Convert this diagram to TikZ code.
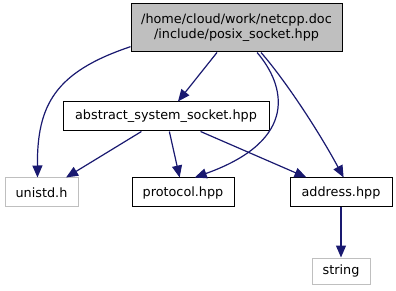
\documentclass[tikz,border=0pt]{standalone}
\usepackage{fontspec}
\setmainfont{DejaVu Sans}
\usetikzlibrary{arrows.meta,positioning}
\definecolor{edgeblue}{RGB}{25,25,112}
\definecolor{lightframe}{RGB}{191,191,191}
\tikzset{
  filenode/.style={rectangle,draw=black,line width=1pt,minimum height=29pt,
    inner sep=0pt,text centered,font=\fontsize{12.8}{15}\selectfont},
  rootnode/.style={filenode,fill=lightframe,align=center,minimum height=48pt},
  sysnode/.style={filenode,draw=lightframe},
  arrow/.style={-{Triangle[length=12pt,width=10pt]},edgeblue,line width=1.2pt},
}

\begin{document}
\begin{tikzpicture}[x=1pt,y=1pt]
  \useasboundingbox (0,0) rectangle (396,-291);

  \node[rootnode, minimum width=211pt] (posix) at (236.5,-28)
    {/home/cloud/work/netcpp.doc\\/include/posix\_socket.hpp};
  \node[filenode, minimum width=206pt] (abstract) at (166,-116.5)
    {abstract\_system\_socket.hpp};

  \node[sysnode, minimum width=73pt] (unistd) at (41.5,-192.5) {unistd.h};
  \node[filenode, minimum width=102pt, right=53pt of unistd] (protocol) {protocol.hpp};
  \node[filenode, minimum width=102pt, right=55pt of protocol] (address) {address.hpp};
  \node[sysnode, minimum width=58pt, minimum height=26pt, below=50pt of address] (string) {string};

  \draw[arrow] (posix.190) .. controls (55,-72) and (37,-105) .. (unistd.105);
  \draw[arrow] (posix)--(abstract);
  \draw[arrow] (posix.-50) .. controls (285,-85) and (300,-140) .. (protocol.52);
  \draw[arrow] (posix.-45) .. controls (285,-80) and (318,-130) .. (address.80);

  \draw[arrow] (abstract)--(unistd);
  \draw[arrow] (abstract)--(protocol);
  \draw[arrow] (abstract)--(address);

  \draw[arrow] (address)--(string);
\end{tikzpicture}
\end{document}
